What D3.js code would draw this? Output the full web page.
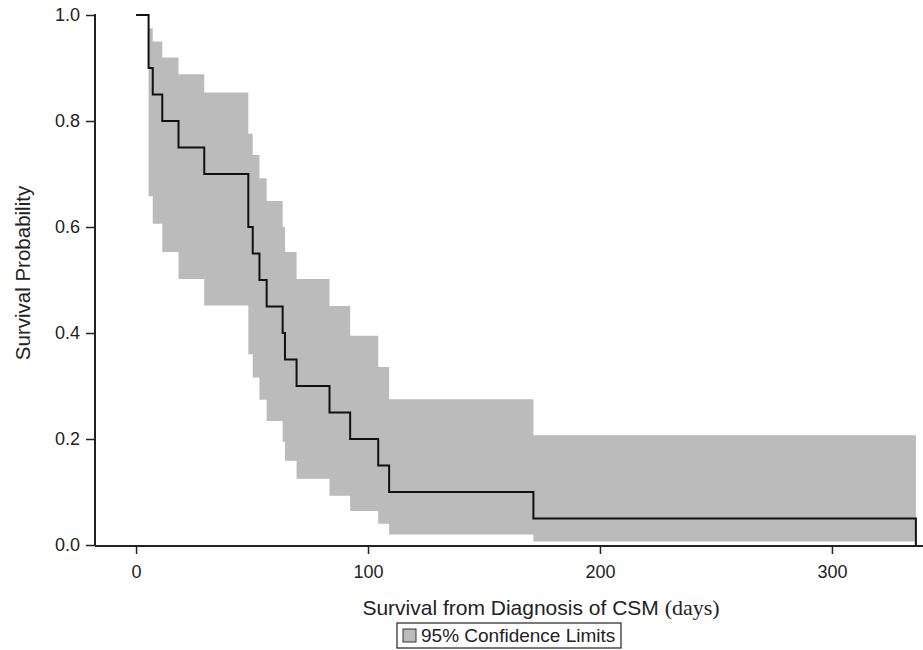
<!DOCTYPE html>
<html>
<head>
<meta charset="utf-8">
<script src="https://cdn.jsdelivr.net/npm/d3@7"></script>
<style>
  body { margin: 0; background: #fff; }
  svg { display: block; }
</style>
</head>
<body>
<div id="chart"></div>
<script>
// event times (days) and Kaplan-Meier estimate after each event
const eventDays = [5.4, 7.2, 11.3, 18.3, 29.4, 48.4, 50.3, 53.2, 56.3, 63.2, 64.2, 69.2, 83.4, 92.3, 104.4, 109.1, 171.3];
const survival  = [0.90, 0.85, 0.80, 0.75, 0.70, 0.60, 0.55, 0.50, 0.45, 0.40, 0.35, 0.30, 0.25, 0.20, 0.15, 0.10, 0.05];
const upperCL   = [0.975, 0.95, 0.92, 0.888, 0.854, 0.776, 0.736, 0.692, 0.649, 0.60, 0.553, 0.502, 0.451, 0.395, 0.336, 0.275, 0.207];
const lowerCL   = [0.658, 0.606, 0.553, 0.502, 0.452, 0.36, 0.316, 0.274, 0.234, 0.195, 0.159, 0.125, 0.093, 0.064, 0.04, 0.02, 0.0066];
const lastDay = 336.2;
const xTicks = [0, 100, 200, 300];
const yTicks = [0, 0.2, 0.4, 0.6, 0.8, 1.0];

const width = 923, height = 650;
const font = "'Liberation Sans', Arial, sans-serif";

const svg = d3.select("#chart").append("svg")
    .attr("width", width)
    .attr("height", height);

const x = d3.scaleLinear().domain([-17.7, 338.4]).range([95, 921]);
const y = d3.scaleLinear().domain([0, 1]).range([545, 15]);

// confidence band
const band = eventDays.map((d, i) => ({ t: d, lo: lowerCL[i], hi: upperCL[i] }));
band.push({ t: lastDay, lo: lowerCL[lowerCL.length - 1], hi: upperCL[upperCL.length - 1] });

svg.append("path")
    .datum(band)
    .attr("fill", "#bbbbbb")
    .attr("d", d3.area()
        .curve(d3.curveStepAfter)
        .x(d => x(d.t))
        .y0(d => y(d.lo))
        .y1(d => y(d.hi)));

// survival step curve
const curve = [{ t: 0, s: 1 }].concat(eventDays.map((d, i) => ({ t: d, s: survival[i] })));
curve.push({ t: lastDay, s: 0 });

svg.append("path")
    .datum(curve)
    .attr("fill", "none")
    .attr("stroke", "#111")
    .attr("stroke-width", 2)
    .attr("d", d3.line()
        .curve(d3.curveStepAfter)
        .x(d => x(d.t))
        .y(d => y(d.s)));

// axes
const xAxis = svg.append("g")
    .attr("transform", "translate(0,546)")
    .call(d3.axisBottom(x).tickValues(xTicks).tickSize(8).tickSizeOuter(0).tickPadding(11));
const yAxis = svg.append("g")
    .attr("transform", "translate(95,0)")
    .call(d3.axisLeft(y).tickValues(yTicks).tickFormat(d3.format(".1f")).tickSize(9).tickSizeOuter(0).tickPadding(6));

[xAxis, yAxis].forEach(a => {
    a.select(".domain").attr("stroke", "#222").attr("stroke-width", 2);
    a.selectAll(".tick line").attr("stroke", "#222").attr("stroke-width", 1.5);
    a.selectAll("text").attr("font-family", font).attr("font-size", 18).attr("fill", "#222");
});
yAxis.select(".domain").attr("d", "M0,14V546");
xAxis.select(".domain").attr("d", "M95,0H923");

// axis titles
svg.append("text")
    .attr("transform", "translate(30,273) rotate(-90)")
    .attr("text-anchor", "middle")
    .attr("font-family", font)
    .attr("font-size", 20.5)
    .attr("fill", "#222")
    .text("Survival Probability");

const xt = svg.append("text")
    .attr("x", 541)
    .attr("y", 615)
    .attr("text-anchor", "middle")
    .attr("font-family", font)
    .attr("font-size", 21)
    .attr("fill", "#222");
xt.append("tspan").text("Survival from Diagnosis of CSM ");
xt.append("tspan").attr("font-family", "'Liberation Serif', 'Times New Roman', serif").attr("font-size", 22).text("(days)");

// legend
const lg = svg.append("g").attr("transform", "translate(397,623)");
lg.append("rect")
    .attr("width", 224).attr("height", 25)
    .attr("fill", "#fff").attr("stroke", "#222").attr("stroke-width", 1.2);
lg.append("rect")
    .attr("x", 6).attr("y", 6).attr("width", 13).attr("height", 13)
    .attr("fill", "#bbbbbb").attr("stroke", "#333").attr("stroke-width", 1);
lg.append("text")
    .attr("x", 24).attr("y", 19)
    .attr("font-family", font)
    .attr("font-size", 19)
    .attr("fill", "#222")
    .text("95% Confidence Limits");
</script>
</body>
</html>
